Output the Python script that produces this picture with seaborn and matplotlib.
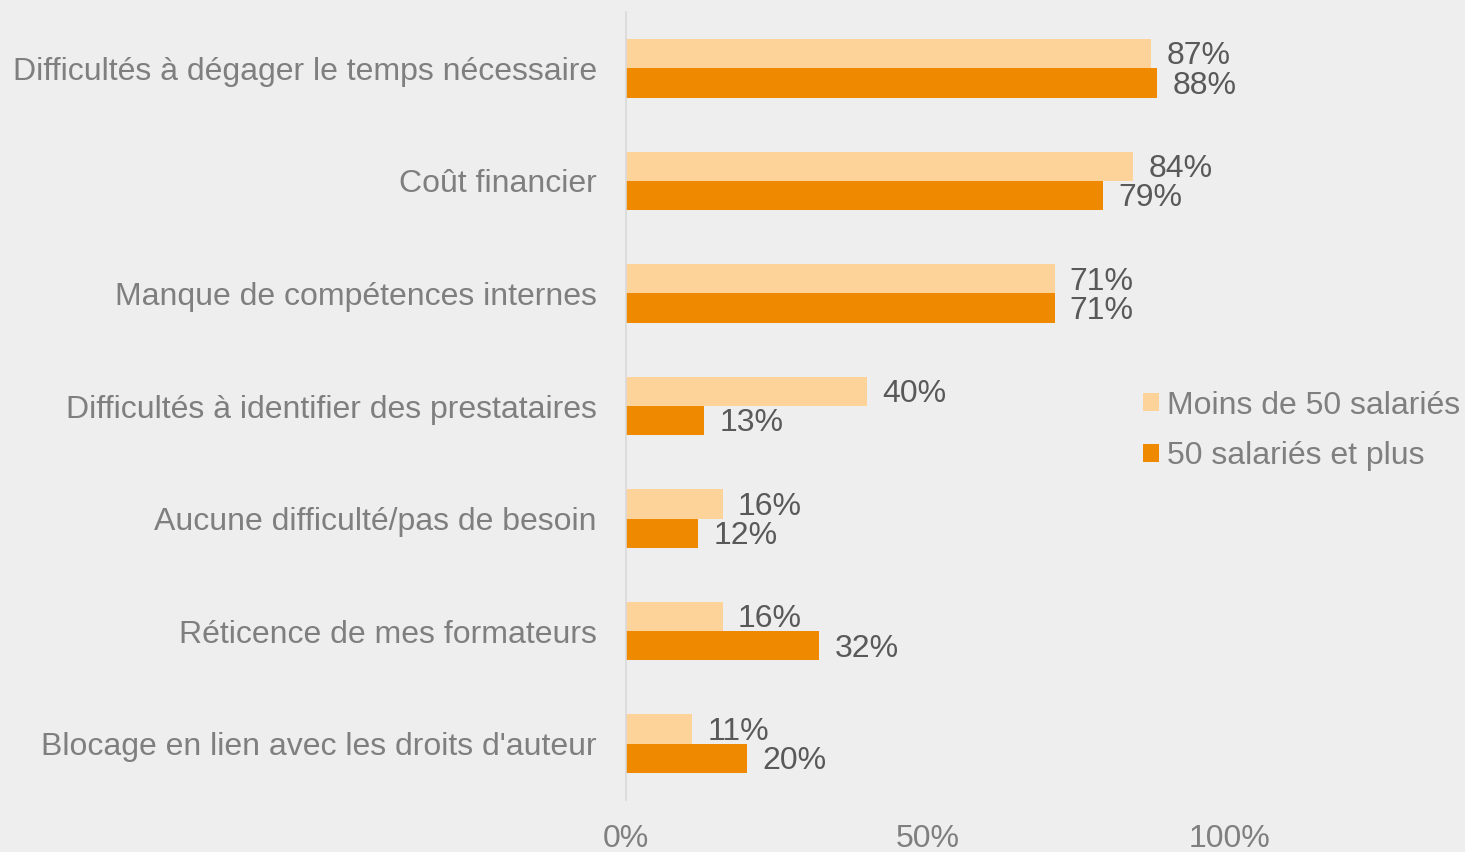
import pandas as pd
import seaborn as sns
import matplotlib.pyplot as plt
from matplotlib.ticker import PercentFormatter

# données du graphique (en %)
categories = [
    "Difficultés à dégager le temps nécessaire",
    "Coût financier",
    "Manque de compétences internes",
    "Difficultés à identifier des prestataires",
    "Aucune difficulté/pas de besoin",
    "Réticence de mes formateurs",
    "Blocage en lien avec les droits d'auteur",
]
groups = ["Moins de 50 salariés", "50 salariés et plus"]
moins_50 = [87, 84, 71, 40, 16, 16, 11]
plus_50 = [88, 79, 71, 13, 12, 32, 20]
x_ticks = [0, 50, 100]

colors = ["#FED39A", "#EF8A00"]
bg = "#EEEEEE"

df = pd.DataFrame({
    "categorie": categories * 2,
    "groupe": [groups[0]] * len(categories) + [groups[1]] * len(categories),
    "valeur": moins_50 + plus_50,
})

sns.set_style("white")
plt.rcParams["font.family"] = ["Liberation Sans", "DejaVu Sans"]

fig = plt.figure(figsize=(14.65, 8.52), dpi=100, facecolor=bg)
ax = fig.add_axes([626 / 1465, 1 - 800 / 852, 1 - 626 / 1465, (800 - 12) / 852])
ax.set_facecolor(bg)

sns.barplot(data=df, y="categorie", x="valeur", hue="groupe", orient="h",
            palette=colors, width=0.52, saturation=1, linewidth=0,
            ax=ax, legend=True)

# étiquettes de valeurs
for cont in ax.containers:
    txts = ax.bar_label(cont, labels=[f"{v:.0f}%" for v in cont.datavalues],
                        padding=11, fontsize=23, color="#595959")
    for t in txts:
        t.xyann = (11, -2)

ax.set_xlim(0, 139)
ax.set_xticks(x_ticks)
ax.xaxis.set_major_formatter(PercentFormatter(100, decimals=0))
ax.set_xlabel("")
ax.set_ylabel("")
ax.tick_params(axis="both", length=0, labelsize=23, labelcolor="#7F7F7F")
ax.tick_params(axis="y", pad=21)
ax.tick_params(axis="x", pad=17)

for side in ["top", "right", "bottom"]:
    ax.spines[side].set_visible(False)
ax.spines["left"].set_color("#D9D9D9")
ax.spines["left"].set_linewidth(1.2)

ax.get_legend().remove()
handles, labels = ax.get_legend_handles_labels()
fig.legend(handles, labels, loc="center left",
           bbox_to_anchor=(1143 / 1465, 1 - 431 / 852),
           frameon=False, fontsize=23, labelcolor="#7F7F7F",
           handlelength=0.5, handleheight=0.5, handletextpad=0.26,
           labelspacing=0.65, borderpad=0, borderaxespad=0)

fig.savefig("out.png", dpi=100, facecolor=bg)
